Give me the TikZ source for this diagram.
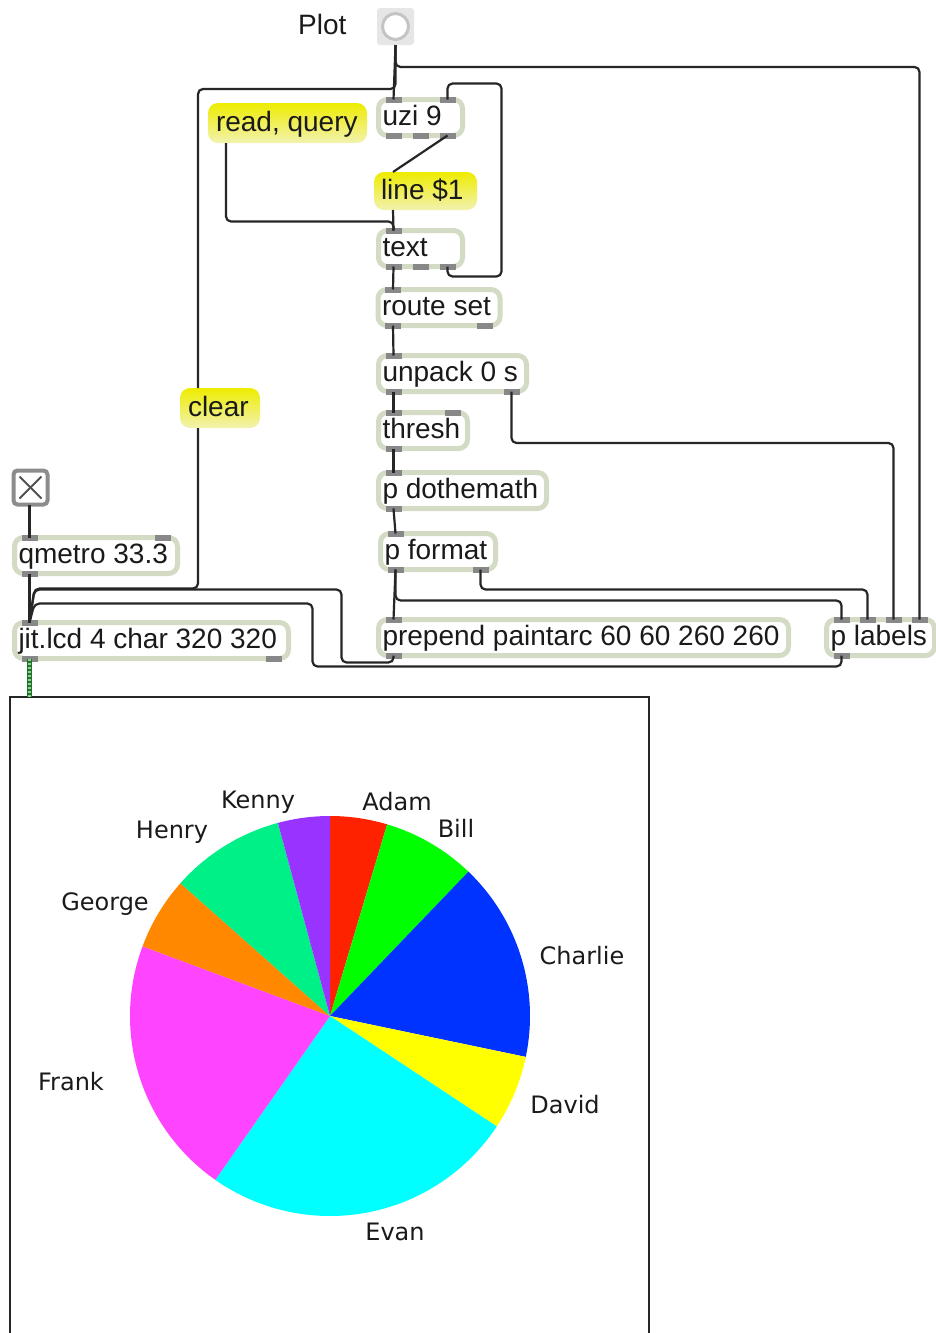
\documentclass[tikz,border=0pt]{standalone}
\usepackage{fontspec}
\usetikzlibrary{calc}
\newfontfamily\maxfont{Liberation Sans}
\newfontfamily\lcdfont{DejaVu Sans}

\definecolor{boxborder}{RGB}{212,219,196}
\definecolor{portgray}{RGB}{136,136,136}
\definecolor{wirecol}{RGB}{38,38,38}
\definecolor{msgtop}{RGB}{238,236,0}
\definecolor{msgbot}{RGB}{242,242,176}
\definecolor{bangbg}{RGB}{230,230,230}
\definecolor{bangring}{RGB}{196,196,196}
\definecolor{togborder}{RGB}{140,140,140}
\definecolor{inktext}{RGB}{26,26,26}
\definecolor{linkdark}{RGB}{40,110,50}
\definecolor{linklight}{RGB}{130,220,130}
\definecolor{cAdam}{RGB}{255,34,0}
\definecolor{cBill}{RGB}{0,255,0}
\definecolor{cCharlie}{RGB}{0,51,255}
\definecolor{cDavid}{RGB}{255,255,0}
\definecolor{cEvan}{RGB}{0,255,255}
\definecolor{cFrank}{RGB}{255,68,255}
\definecolor{cGeorge}{RGB}{255,136,0}
\definecolor{cHenry}{RGB}{0,240,136}
\definecolor{cKenny}{RGB}{153,51,255}

\tikzset{
  maxbox/.style={draw=boxborder, line width=5, fill=white, rounded corners=9,
    inner xsep=4, inner ysep=5, outer sep=0, anchor=north west,
    text height=21, text depth=5, text=inktext,
    font={\maxfont\fontsize{28}{32}\selectfont}},
  msgbox/.style={shade, top color=msgtop, bottom color=msgbot, rounded corners=10,
    inner xsep=8, inner ysep=7, outer sep=0, anchor=north west,
    text height=21, text depth=5, text=inktext,
    font={\maxfont\fontsize{28}{32}\selectfont}},
  port/.style={fill=portgray},
  wire/.style={draw=wirecol, line width=2.2, rounded corners=5},
  pielabel/.style={font={\lcdfont\fontsize{24}{28}\selectfont}, text=inktext,
    inner sep=0, anchor=base},
}

% Max object box with evenly spaced inlets (top) and outlets (bottom)
\newcommand{\maxports}[7]{%
  \foreach \i in {1,...,#5} {%
    \ifnum#5=1 \def\px{#2+7}\else\pgfmathsetmacro\px{#2+7+(\i-1)*(#4-30)/(#5-1)}\fi
    \fill[port] (\px,#3+#7-3) rectangle ++(16,6);
    \coordinate (#1-#6\i) at (\px+8,#3+#7);
  }%
}
\newcommand{\maxobj}[7]{%
  \pgfmathsetmacro\tw{#4-8}%
  \node[maxbox, minimum width=#4] (#1) at (#2,#3) {\makebox[\tw pt][l]{#7}};
  \maxports{#1}{#2}{#3}{#4}{#5}{in}{0}
  \maxports{#1}{#2}{#3}{#4}{#6}{out}{36}
}

\begin{document}
\begin{tikzpicture}[x=1pt,y=-1pt]
\clip (0,0) rectangle (936,1333);
\fill[white] (0,0) rectangle (936,1333);

% ---- bang button and its label
\node[fill=bangbg, rounded corners=3, minimum size=37, inner sep=0, outer sep=0,
      anchor=north west] (plot) at (377,8) {};
\draw[bangring, line width=3, fill=white] (plot.center) circle (13);
\node[font={\maxfont\fontsize{28}{32}\selectfont}, text=inktext, inner sep=0,
      anchor=base west] (plotlabel) at (298,34) {Plot};
\coordinate (plot-out1) at (plot.south);

% ---- message boxes
\node[msgbox, minimum width=159, minimum height=40] (readq) at (208,103) {\makebox[143pt][l]{read, query}};
\node[msgbox, minimum width=103, minimum height=38, inner xsep=7, inner ysep=6] (linemsg) at (374,172) {\makebox[89pt][l]{line \$1}};
\node[msgbox, minimum width=80, minimum height=40] (clear) at (180,388) {\makebox[64pt][l]{clear}};
\coordinate (readq-out1) at ($(readq.south west)+(18,0)$);
\coordinate (linemsg-in1) at ($(linemsg.north west)+(19,0)$);
\coordinate (linemsg-out1) at ($(linemsg.south west)+(19,0)$);
\coordinate (clear-in1) at ($(clear.north west)+(18,0)$);
\coordinate (clear-out1) at ($(clear.south west)+(18,0)$);

% ---- objects
\maxobj{uzi}{378.5}{99.5}{84}{2}{3}{uzi 9}
\maxobj{txt}{378.5}{230.5}{84}{1}{3}{text}
\maxobj{route}{378}{289.5}{122}{1}{2}{route set}
\maxobj{unpack}{378.5}{355.5}{148}{1}{2}{unpack 0 s}
\maxobj{thresh}{378.5}{412.5}{89}{2}{1}{thresh}
\maxobj{math}{378.5}{472.5}{168}{1}{1}{p dothemath}
\maxobj{pformat}{380.5}{533.5}{115}{1}{2}{p format}
\maxobj{prepend}{378.5}{619.5}{410}{1}{1}{prepend paintarc 60 60 260 260}
\maxobj{labels}{826.5}{619.5}{108}{4}{1}{p labels}
\maxobj{qmetro}{14.5}{537.5}{163}{2}{1}{qmetro 33.3}
\maxobj{lcdobj}{14.5}{622.5}{274}{1}{2}{jit.lcd 4 char 320 320}

% ---- toggle
\node[draw=togborder, line width=4, rounded corners=4, fill=white, minimum size=34,
      inner sep=0, outer sep=0, anchor=north west] (tog) at (13.5,470.5) {};
\draw[wirecol!80, line width=2] ($(tog.north west)+(6,6)$) -- ($(tog.south east)+(-6,-6)$);
\draw[wirecol!80, line width=2] ($(tog.north east)+(-6,6)$) -- ($(tog.south west)+(6,-6)$);
\coordinate (tog-out1) at ($(tog.south west)+(16,0)$);

% ---- patch cords
\draw[wire] (plot-out1) -- (uzi-in1);
\draw[wire] (plot-out1) -- ++(0,44) -| (clear-in1);
\draw[wire] (plot-out1) -- ++(0,22) -| (labels-in4);
\draw[wire] (uzi-out3) -- (linemsg-in1);
\draw[wire] (linemsg-out1) -- (txt-in1);
\draw[wire] (readq-out1) |- ($(txt-in1)+(0,-9)$) -- (txt-in1);
\draw[wire] (txt-out3) -- ++(0,10) -- ++(54,0) |- ($(uzi-in2)+(0,-16)$) -- (uzi-in2);
\draw[wire] (txt-out1) -- (route-in1);
\draw[wire] (route-out1) -- (unpack-in1);
\draw[wire] (unpack-out1) -- (thresh-in1);
\draw[wire] (unpack-out2) -- ++(0,51.5) -| (labels-in3);
\draw[wire] (thresh-out1) -- (math-in1);
\draw[wire] (math-out1) -- (pformat-in1);
\draw[wire] (pformat-out1) -- (prepend-in1);
\draw[wire] (pformat-out1) -- ++(0,31) -| (labels-in1);
\draw[wire] (pformat-out2) -- ++(0,20) -| (labels-in2);
\draw[wire] (tog-out1) -- (qmetro-in1);
\draw[wire] (qmetro-out1) -- (lcdobj-in1);
\draw[wire] (clear-out1) |- ($(lcdobj-in1)+(5,-34)$) -- (lcdobj-in1);
\draw[wire] (prepend-out1) -- ++(0,7) -| ($(lcdobj-in1)+(312,-33)$) -- ($(lcdobj-in1)+(5,-33)$) -- (lcdobj-in1);
\draw[wire] (labels-out1) -- ++(0,11) -| ($(lcdobj-in1)+(283,-19)$) -- ($(lcdobj-in1)+(5,-19)$) -- (lcdobj-in1);

% ---- display window
\node[draw=wirecol, line width=2.5, minimum width=639, minimum height=700,
      inner sep=0, outer sep=0, anchor=north west] (lcd) at (10,697) {};
\draw[linkdark, line width=5] (lcdobj-out1) -- (lcdobj-out1 |- lcd.north);
\draw[linklight, line width=3, dash pattern=on 2 off 2] (lcdobj-out1) -- (lcdobj-out1 |- lcd.north);

% ---- pie chart
\coordinate (pc) at (330,1016);
\foreach \a/\b/\c in {-90/-73.4/cAdam, -73.4/-46.2/cBill, -46.2/11.8/cCharlie,
    11.8/33.5/cDavid, 33.5/125/cEvan, 125/200.4/cFrank, 200.4/221.6/cGeorge,
    221.6/254.9/cHenry, 254.9/270/cKenny}
  \fill[\c] (pc) -- ++(\a:200) arc[start angle=\a, end angle=\b, radius=200] -- cycle;

\node[pielabel] (lKenny) at (258,808) {Kenny};
\node[pielabel] (lAdam) at (397,810) {Adam};
\node[pielabel] (lHenry) at (172,838) {Henry};
\node[pielabel] (lBill) at (456,837) {Bill};
\node[pielabel] (lGeorge) at (105,910) {George};
\node[pielabel] (lCharlie) at (582,964) {Charlie};
\node[pielabel] (lFrank) at (71,1090) {Frank};
\node[pielabel] (lDavid) at (565,1113) {David};
\node[pielabel] (lEvan) at (395,1240) {Evan};
\end{tikzpicture}
\end{document}
